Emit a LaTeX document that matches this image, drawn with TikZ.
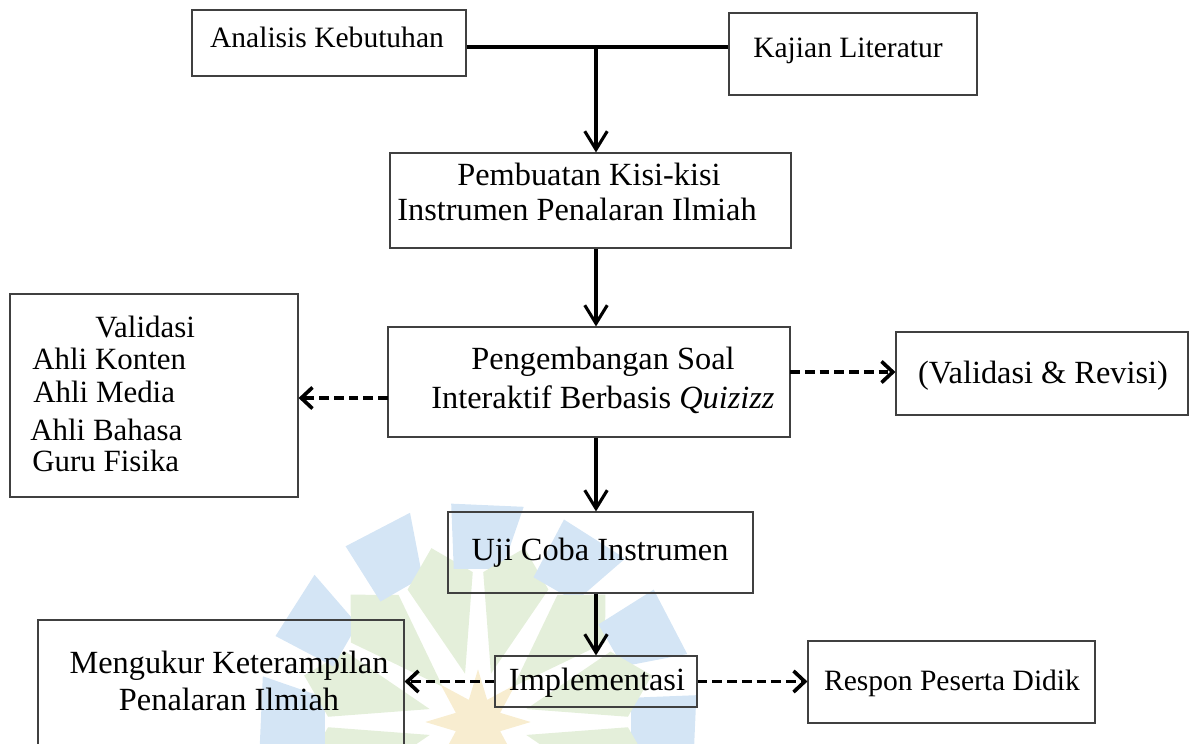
\documentclass[tikz,border=0pt]{standalone}
\usepackage{fontspec}
\setmainfont{Liberation Serif}
\usetikzlibrary{arrows.meta,fit,shapes.geometric}

\definecolor{wmblue}{RGB}{212,229,245}
\definecolor{wmgreen}{RGB}{228,239,218}
\definecolor{wmgold}{RGB}{248,237,208}

\tikzset{
    box/.style={draw=black!75, line width=0.8pt, inner sep=0pt},
    txt/.style={font=\fontsize{23}{24}\selectfont, inner sep=0pt, anchor=base},
    smalltxt/.style={txt, font=\fontsize{21}{24}\selectfont},
    listtxt/.style={txt, anchor=base west, font=\fontsize{22}{24}\selectfont},
    flow/.style={line width=2.2pt, -{Straight Barb[length=13pt,width=16pt]}},
    dashflow/.style={line width=2.6pt, dash pattern=on 7pt off 3.5pt,
        -{Straight Barb[length=8pt,width=15pt]}},
}

\begin{document}
\begin{tikzpicture}[x=0.025cm, y=-0.025cm]
    \useasboundingbox (0,0) rectangle (1193,744);

    % watermark logo
    \begin{scope}[shift={(478,722)}]
        \foreach \a in {0,30,...,330} {
            \fill[wmblue] (\a-9:155) -- (\a+9:155) -- (\a+12:220) -- (\a-7:220) -- cycle;
            \fill[wmgreen] (\a+15:50) -- (\a+2:150) -- (\a+15:180) -- (\a+28:150) -- cycle;
        }
    \end{scope}
    \node[star, star points=8, star point ratio=2.2, fill=wmgold, minimum size=75pt,
        inner sep=0pt] (logostar) at (478,722) {};

    % boxes
    \node[box, fit={(192,10) (466,76)}] (analisis) {};
    \node[box, fit={(729,13) (977,95)}] (kajian) {};
    \node[box, fit={(390,153) (791,248)}] (pembuatan) {};
    \node[box, fit={(388,327) (790,437)}] (pengembangan) {};
    \node[box, fit={(10,294) (298,497)}] (validasi) {};
    \node[box, fit={(896,332) (1188,415)}] (revisi) {};
    \node[box, fit={(448,512) (753,593)}] (uji) {};
    \node[box, fit={(495,656) (697,707)}] (implementasi) {};
    \node[box, fit={(38,620) (404,760)}] (mengukur) {};
    \node[box, fit={(808,641) (1095,723)}] (respon) {};

    % texts
    \node[smalltxt] (analisis-t) at (327,47) {Analisis Kebutuhan};
    \node[smalltxt] (kajian-t) at (848,57) {Kajian Literatur};
    \node[txt] (pembuatan-a) at (589,185) {Pembuatan Kisi-kisi};
    \node[txt] (pembuatan-b) at (577,220) {Instrumen Penalaran Ilmiah};
    \node[txt] (pengembangan-a) at (603,369) {Pengembangan Soal};
    \node[txt] (pengembangan-b) at (603,408) {Interaktif Berbasis \textit{Quizizz}};
    \node[listtxt] (validasi-a) at (95,337) {Validasi};
    \node[listtxt] (validasi-b) at (32,369) {Ahli Konten};
    \node[listtxt] (validasi-c) at (33,402) {Ahli Media};
    \node[listtxt] (validasi-d) at (30,440) {Ahli Bahasa};
    \node[listtxt] (validasi-e) at (32,471) {Guru Fisika};
    \node[txt] (revisi-t) at (1043,383) {(Validasi \& Revisi)};
    \node[txt] (uji-t) at (600,560) {Uji Coba Instrumen};
    \node[txt] (implementasi-t) at (597,690) {Implementasi};
    \node[txt] (mengukur-a) at (229,673) {Mengukur Keterampilan};
    \node[txt] (mengukur-b) at (229,710) {Penalaran Ilmiah};
    \node[smalltxt] (respon-t) at (952,690) {Respon Peserta Didik};

    % connectors
    \coordinate (junc) at (596,47);
    \coordinate (left-dash) at (388,398);
    \coordinate (right-dash) at (790,372);
    \draw[line width=2.8pt] (analisis.east |- junc) -- (kajian.west |- junc);
    \draw[flow] (junc) -- (pembuatan.north -| junc);
    \draw[flow] (pembuatan.south -| junc) -- (pengembangan.north -| junc);
    \draw[flow] (pengembangan.south -| junc) -- (uji.north -| junc);
    \draw[flow] (uji.south -| junc) -- (implementasi.north -| junc);

    \draw[dashflow] (left-dash) -- (left-dash -| validasi.east);
    \draw[dashflow] (right-dash) -- (right-dash -| revisi.west);
    \draw[dashflow] (implementasi.west) -- (implementasi.west -| mengukur.east);
    \draw[dashflow] (implementasi.east) -- (implementasi.east -| respon.west);
\end{tikzpicture}
\end{document}
